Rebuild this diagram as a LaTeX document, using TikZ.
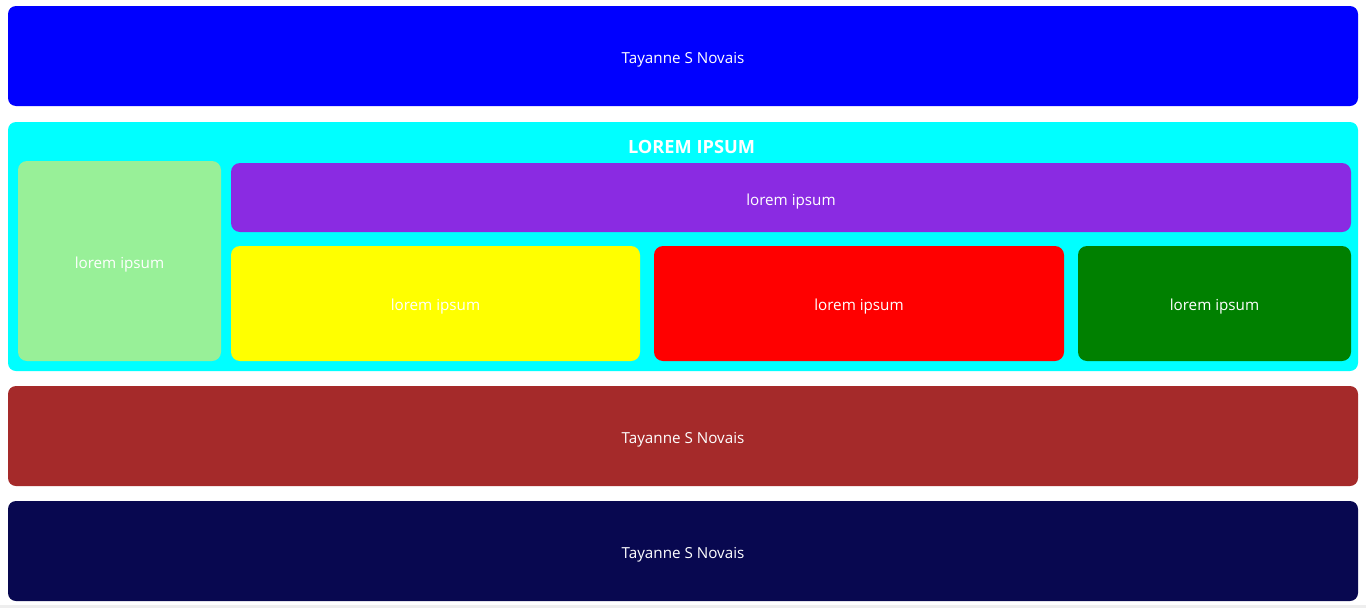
\documentclass[tikz,border=0pt]{standalone}
\usepackage{fontspec}
\setmainfont{Open Sans}
\definecolor{cblue}{HTML}{0000FF}
\definecolor{ccyan}{HTML}{00FFFF}
\definecolor{cltgreen}{HTML}{98F098}
\definecolor{cpurple}{HTML}{8A2BE2}
\definecolor{cyellow}{HTML}{FFFF00}
\definecolor{cred}{HTML}{FF0000}
\definecolor{cgreen}{HTML}{008000}
\definecolor{cbrown}{HTML}{A52A2A}
\definecolor{cnavy}{HTML}{080850}
\definecolor{cgray}{HTML}{EEEEEE}
\tikzset{
  panel/.style={rounded corners=8pt, inner sep=0pt},
  card/.style={rounded corners=9pt, inner sep=0pt},
  lbl/.style={text=white, font=\fontsize{15.2}{18}\selectfont},
  ttl/.style={text=white, font=\bfseries\fontsize{18.2}{21}\selectfont},
}
\begin{document}
\begin{tikzpicture}[x=1pt,y=-1pt]
\useasboundingbox (0,0) rectangle (1366,608);
\fill[white] (0,0) rectangle (1366,608);
\fill[cgray] (0,605) rectangle (1366,608);
% header
\fill[cblue,panel] (8,6) rectangle (1358,106);
\node[lbl] (t1) at (683,59.5) {Tayanne S Novais};
% container
\fill[ccyan,panel] (8,122) rectangle (1358,371);
\node[ttl] (title) at (691.5,147) {LOREM IPSUM};
\fill[cltgreen,card] (18,161) rectangle (221,361);
\node[lbl] (a) at (119.5,264.5) {lorem ipsum};
\fill[cpurple,card] (231,163) rectangle (1351,232);
\node[lbl] (b) at (791,201.5) {lorem ipsum};
\fill[cyellow,card] (231,246) rectangle (640,361);
\node[lbl] (c) at (435.5,306.5) {lorem ipsum};
\fill[cred,card] (654,246) rectangle (1064,361);
\node[lbl] (d) at (859,306.5) {lorem ipsum};
\fill[cgreen,card] (1078,246) rectangle (1351,361);
\node[lbl] (e) at (1214.5,306.5) {lorem ipsum};
% bottom bands
\fill[cbrown,panel] (8,386) rectangle (1358,486);
\node[lbl] (t2) at (683,439.5) {Tayanne S Novais};
\fill[cnavy,panel] (8,501) rectangle (1358,601);
\node[lbl] (t3) at (683,554.5) {Tayanne S Novais};
\end{tikzpicture}
\end{document}
